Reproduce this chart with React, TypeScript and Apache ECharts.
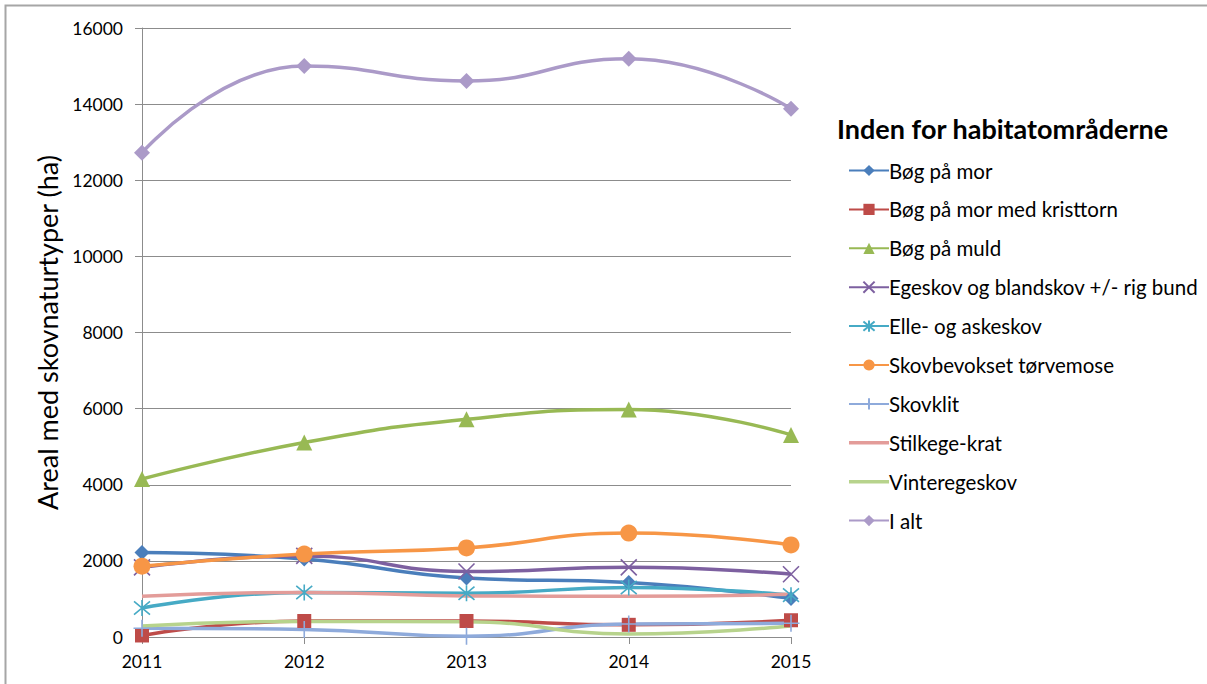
import React, { useEffect, useRef } from "react";
import * as echarts from "echarts";

const years = ["2011", "2012", "2013", "2014", "2015"];
const bogPaaMor = [2220, 2050, 1550, 1430, 1010];
const bogKristtorn = [40, 420, 420, 320, 440];
const bogMuld = [4150, 5110, 5720, 5980, 5310];
const egeskov = [1830, 2130, 1720, 1830, 1650];
const elleAske = [760, 1170, 1150, 1300, 1100];
const torvemose = [1860, 2180, 2340, 2730, 2420];
const skovklit = [230, 200, 20, 340, 360];
const stilkege = [1070, 1170, 1080, 1070, 1120];
const vinteregeskov = [290, 410, 400, 80, 290];
const iAlt = [12720, 15000, 14610, 15190, 13880];

const seriesNames = [
  "Bøg på mor",
  "Bøg på mor med kristtorn",
  "Bøg på muld",
  "Egeskov og blandskov +/- rig bund",
  "Elle- og askeskov",
  "Skovbevokset tørvemose",
  "Skovklit",
  "Stilkege-krat",
  "Vinteregeskov",
  "I alt",
];
const seriesData = [
  bogPaaMor, bogKristtorn, bogMuld, egeskov, elleAske,
  torvemose, skovklit, stilkege, vinteregeskov, iAlt,
];
const colors = [
  "#4A7EBB", "#BE4B48", "#98B954", "#7D60A0", "#46AAC5",
  "#F79646", "#8EAADB", "#E39C99", "#B7D38C", "#AB9AC8",
];

const X_PATH = "path://M0,0L10,10M10,0L0,10";
const STAR_PATH = "path://M0,0L10,10M10,0L0,10M5,-1L5,11";
const PLUS_PATH = "path://M5,0L5,10M0,5L10,5";
const LINE_ICON = "path://M0,0L40,0L40,3.5L0,3.5Z";

const symbols: any[] = [
  ["diamond", 15],
  ["rect", 14],
  ["triangle", 16],
  [X_PATH, 16],
  [STAR_PATH, 16],
  ["circle", 17],
  [PLUS_PATH, 17],
  ["none", 0],
  ["none", 0],
  ["diamond", 16],
];

const FONT = "Lato, 'Open Sans', sans-serif";

export default function App() {
  const ref = useRef<HTMLDivElement>(null);
  useEffect(() => {
    document.body.style.margin = "0";
    if (!ref.current) return;
    const chart = echarts.init(ref.current, undefined, { renderer: "svg" });
    const series = seriesNames.map((name, i) => {
      const [sym, size] = symbols[i];
      const isPath = typeof sym === "string" && sym.startsWith("path://");
      return {
        name,
        type: "line",
        data: seriesData[i],
        smooth: 0.5,
        symbol: sym,
        symbolSize: size,
        showSymbol: sym !== "none",
        lineStyle: { width: 3.5, color: colors[i] },
        itemStyle: isPath
          ? { color: "rgba(0,0,0,0)", borderColor: colors[i], borderWidth: 1.6 }
          : { color: colors[i] },
        emphasis: { disabled: true },
      };
    });
    const legendData = seriesNames.map((name, i) =>
      symbols[i][0] === "none" ? { name, icon: LINE_ICON } : { name }
    );
    chart.setOption({
      animation: false,
      textStyle: { fontFamily: FONT },
      grid: { left: 142, right: 416, top: 28, bottom: 47 },
      graphic: [
        {
          type: "rect",
          shape: { x: 5.5, y: 5.5, width: 1220, height: 700 },
          style: { fill: "none", stroke: "#A6A6A6", lineWidth: 2 },
          silent: true,
        },
        {
          type: "text",
          x: 837,
          y: 128,
          style: {
            text: "Inden for habitatområderne",
            font: `bold 27px ${FONT}`,
            fill: "#000",
            verticalAlign: "middle",
          },
        },
      ],
      legend: {
        orient: "vertical",
        left: 843,
        top: 155,
        itemWidth: 40,
        itemHeight: 14,
        itemGap: 17.9,
        data: legendData,
        textStyle: { fontSize: 20.5, color: "#000", fontFamily: FONT, padding: [0, 0, 0, -5] },
      },
      xAxis: {
        type: "category",
        data: years,
        boundaryGap: false,
        axisLine: { lineStyle: { color: "#8C8C8C", width: 1 } },
        axisTick: { show: true, length: 7, lineStyle: { color: "#8C8C8C" } },
        axisLabel: { fontSize: 17.5, color: "#000", margin: 15, fontFamily: FONT },
        splitLine: { show: false },
      },
      yAxis: {
        type: "value",
        min: 0,
        max: 16000,
        interval: 2000,
        name: "Areal med skovnaturtyper (ha)",
        nameLocation: "middle",
        nameRotate: 90,
        nameGap: 78,
        nameTextStyle: { fontSize: 27, color: "#000", fontFamily: FONT },
        axisLine: { show: true, lineStyle: { color: "#8C8C8C", width: 1 } },
        axisTick: { show: true, length: 7, lineStyle: { color: "#8C8C8C" } },
        axisLabel: {
          fontSize: 17.5,
          color: "#000",
          margin: 19,
          fontFamily: FONT,
          formatter: (v: number) => String(v),
        },
        splitLine: { show: true, lineStyle: { color: "#8C8C8C", width: 1 } },
      },
      series,
    });
    return () => chart.dispose();
  }, []);
  return <div ref={ref} style={{ width: 1207, height: 684 }} />;
}
